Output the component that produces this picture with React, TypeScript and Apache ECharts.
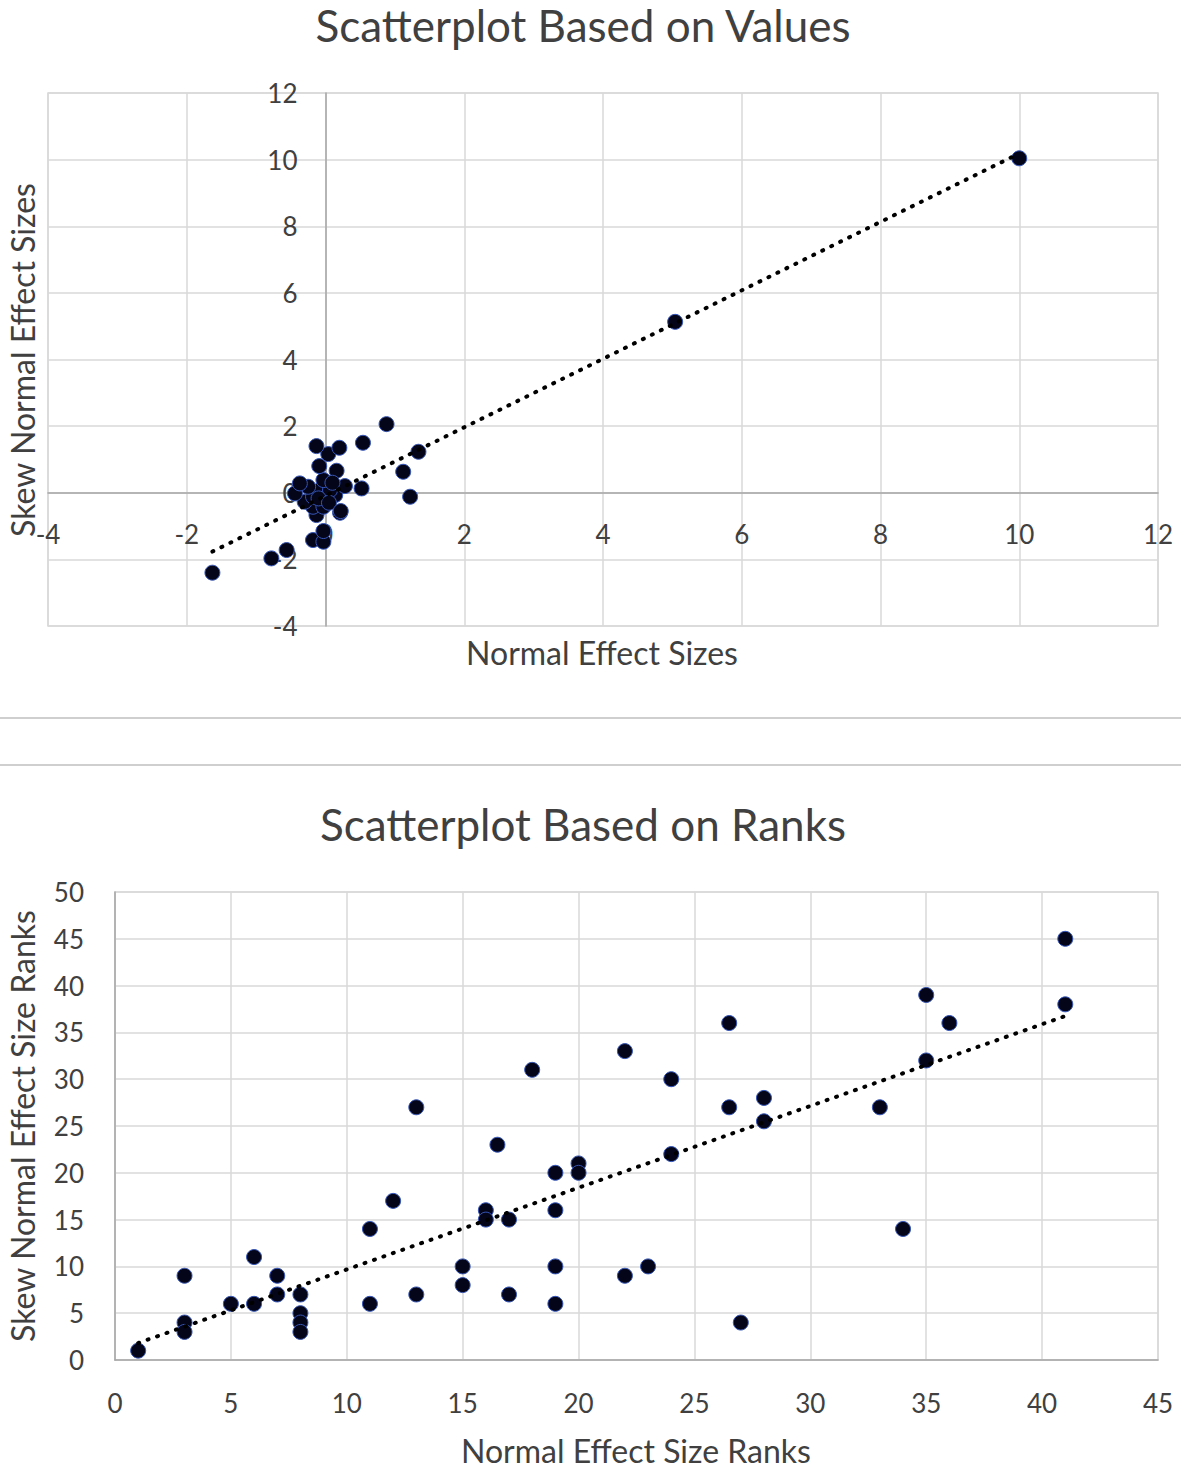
import React, { useEffect, useRef } from "react";
import * as echarts from "echarts";

const valuesTitle = "Scatterplot Based on Values";
const ranksTitle = "Scatterplot Based on Ranks";
const valuesXName = "Normal Effect Sizes";
const valuesYName = "Skew Normal Effect Sizes";
const ranksXName = "Normal Effect Size Ranks";
const ranksYName = "Skew Normal Effect Size Ranks";

// Top chart: effect sizes
const valueX = [
  -1.63, -0.78, -0.56, -0.18, -0.03, -0.03, -0.13, 0.21, -0.18, -0.03, -0.3, -0.18, 0.14, -0.44,
  -0.08, 0.065, 0.28, 0.52, -0.25, -0.37, -0.03, 0.16, -0.09, 0.04, -0.13, 0.2, 0.54, 0.88, 1.12,
  1.22, 1.34, 5.04, 10.0, -0.1, 0.05, 0.1, 0.22,
];
const valueY = [
  -2.4, -1.97, -1.72, -1.42, -1.47, -1.15, -0.67, -0.6, -0.42, -0.42, -0.27, -0.12, -0.07, -0.02,
  0.08, 0.08, 0.2, 0.13, 0.18, 0.28, 0.38, 0.66, 0.8, 1.16, 1.4, 1.35, 1.5, 2.06, 0.63, -0.12, 1.23,
  5.13, 10.04, -0.17, -0.3, 0.3, -0.55,
];

// Bottom chart: ranks
const rankX = [
  1, 3, 3, 3, 5, 6, 6, 7, 7, 8, 8, 8, 8, 11, 11, 12, 13, 13, 15, 15, 16, 16, 16.5, 17, 17, 18, 19,
  19, 19, 19, 20, 20, 22, 22, 23, 24, 24, 26.5, 26.5, 27, 28, 28, 33, 34, 35, 35, 36, 41, 41,
];
const rankY = [
  1, 9, 4, 3, 6, 11, 6, 9, 7, 7, 5, 4, 3, 14, 6, 17, 27, 7, 10, 8, 16, 15, 23, 15, 7, 31, 20, 16,
  10, 6, 21, 20, 33, 9, 10, 30, 22, 36, 27, 4, 28, 25.5, 27, 14, 39, 32, 36, 45, 38,
];

const valueTicks = [-4, -2, 0, 2, 4, 6, 8, 10, 12];
const rankXTicks = [0, 5, 10, 15, 20, 25, 30, 35, 40, 45];
const rankYTicks = [0, 5, 10, 15, 20, 25, 30, 35, 40, 45, 50];

function fitLine(xs: number[], ys: number[]) {
  const n = xs.length;
  let sx = 0, sy = 0, sxx = 0, sxy = 0;
  for (let i = 0; i < n; i++) {
    sx += xs[i]; sy += ys[i]; sxx += xs[i] * xs[i]; sxy += xs[i] * ys[i];
  }
  const slope = (n * sxy - sx * sy) / (n * sxx - sx * sx);
  const icpt = (sy - slope * sx) / n;
  const x0 = Math.min(...xs);
  const x1 = Math.max(...xs);
  return [[x0, slope * x0 + icpt], [x1, slope * x1 + icpt]];
}

const FONT = "Lato";
const TEXT = "#404040";
const GRID = "#d9d9d9";
const AXIS = "#a6a6a6";

// grid geometry
const G1 = { left: 48, top: 93, width: 1110, height: 533 };
const G2 = { left: 115, top: 892, width: 1043, height: 468 };

// offset that places an axis at value 0
function zeroOffset(ticks: number[], size: number) {
  const min = ticks[0];
  const max = ticks[ticks.length - 1];
  return -((0 - min) / (max - min)) * size;
}

function axis(ticks: number[], margin: number, extra: any) {
  return {
    type: "value",
    min: ticks[0],
    max: ticks[ticks.length - 1],
    interval: ticks[1] - ticks[0],
    axisLine: { show: true, onZero: false, lineStyle: { color: AXIS, width: 1.5 } },
    axisTick: { show: false },
    splitLine: { show: true, lineStyle: { color: GRID, width: 1.5 } },
    axisLabel: { color: TEXT, fontSize: 26, fontFamily: FONT, margin },
    ...extra,
  };
}

const markerStyle = {
  color: "#05051a",
  borderColor: "#3556b8",
  borderWidth: 1,
  opacity: 1,
};

const trendStyle = {
  color: "#000",
  width: 4,
  type: [1, 9],
  cap: "round",
};

export default function App() {
  const ref = useRef<HTMLDivElement>(null);
  useEffect(() => {
    document.body.style.margin = "0";
    const chart = echarts.init(ref.current!, null, { renderer: "svg" });
    const option: any = {
      animation: false,
      backgroundColor: "#fff",
      textStyle: { fontFamily: FONT },
      grid: [
        { ...G1, outerBoundsMode: "none", containLabel: false, show: true, borderColor: GRID, borderWidth: 1.5 },
        { ...G2, outerBoundsMode: "none", containLabel: false, show: true, borderColor: GRID, borderWidth: 1.5 },
      ],
      xAxis: [
        axis(valueTicks, 28, { gridIndex: 0, position: "bottom", offset: zeroOffset(valueTicks, G1.height) }),
        axis(rankXTicks, 30, { gridIndex: 1 }),
      ],
      yAxis: [
        axis(valueTicks, 28, { gridIndex: 0, position: "left", offset: zeroOffset(valueTicks, G1.width) }),
        axis(rankYTicks, 31, { gridIndex: 1 }),
      ],
      series: [
        {
          type: "scatter",
          xAxisIndex: 0,
          yAxisIndex: 0,
          symbolSize: 15,
          itemStyle: markerStyle,
          data: valueX.map((x, i) => [x, valueY[i]]),
          z: 3,
        },
        {
          type: "line",
          xAxisIndex: 0,
          yAxisIndex: 0,
          symbol: "none",
          lineStyle: trendStyle,
          data: fitLine(valueX, valueY),
          z: 4,
        },
        {
          type: "scatter",
          xAxisIndex: 1,
          yAxisIndex: 1,
          symbolSize: 15,
          itemStyle: markerStyle,
          data: rankX.map((x, i) => [x, rankY[i]]),
          z: 3,
        },
        {
          type: "line",
          xAxisIndex: 1,
          yAxisIndex: 1,
          symbol: "none",
          lineStyle: trendStyle,
          data: fitLine(rankX, rankY),
          z: 4,
        },
      ],
      graphic: [
        { type: "line", shape: { x1: 0, y1: 718, x2: 1181, y2: 718 }, style: { stroke: "#cfcfcf", lineWidth: 2 } },
        { type: "line", shape: { x1: 0, y1: 765, x2: 1181, y2: 765 }, style: { stroke: "#cfcfcf", lineWidth: 2 } },
        { type: "text", x: 583, y: 25, style: { text: valuesTitle, fill: TEXT, font: `44px ${FONT}`, align: "center", verticalAlign: "middle" } },
        { type: "text", x: 583, y: 824, style: { text: ranksTitle, fill: TEXT, font: `44px ${FONT}`, align: "center", verticalAlign: "middle" } },
        { type: "text", x: 602, y: 652, style: { text: valuesXName, fill: TEXT, font: `32px ${FONT}`, align: "center", verticalAlign: "middle" } },
        { type: "text", x: 636, y: 1450, style: { text: ranksXName, fill: TEXT, font: `32px ${FONT}`, align: "center", verticalAlign: "middle" } },
        { type: "text", x: 22, y: 360, rotation: Math.PI / 2, style: { text: valuesYName, fill: TEXT, font: `32px ${FONT}`, align: "center", verticalAlign: "middle" } },
        { type: "text", x: 22, y: 1126, rotation: Math.PI / 2, style: { text: ranksYName, fill: TEXT, font: `32px ${FONT}`, align: "center", verticalAlign: "middle" } },
      ],
    };
    chart.setOption(option);
    return () => chart.dispose();
  }, []);
  return <div ref={ref} style={{ width: 1181, height: 1469 }} />;
}
